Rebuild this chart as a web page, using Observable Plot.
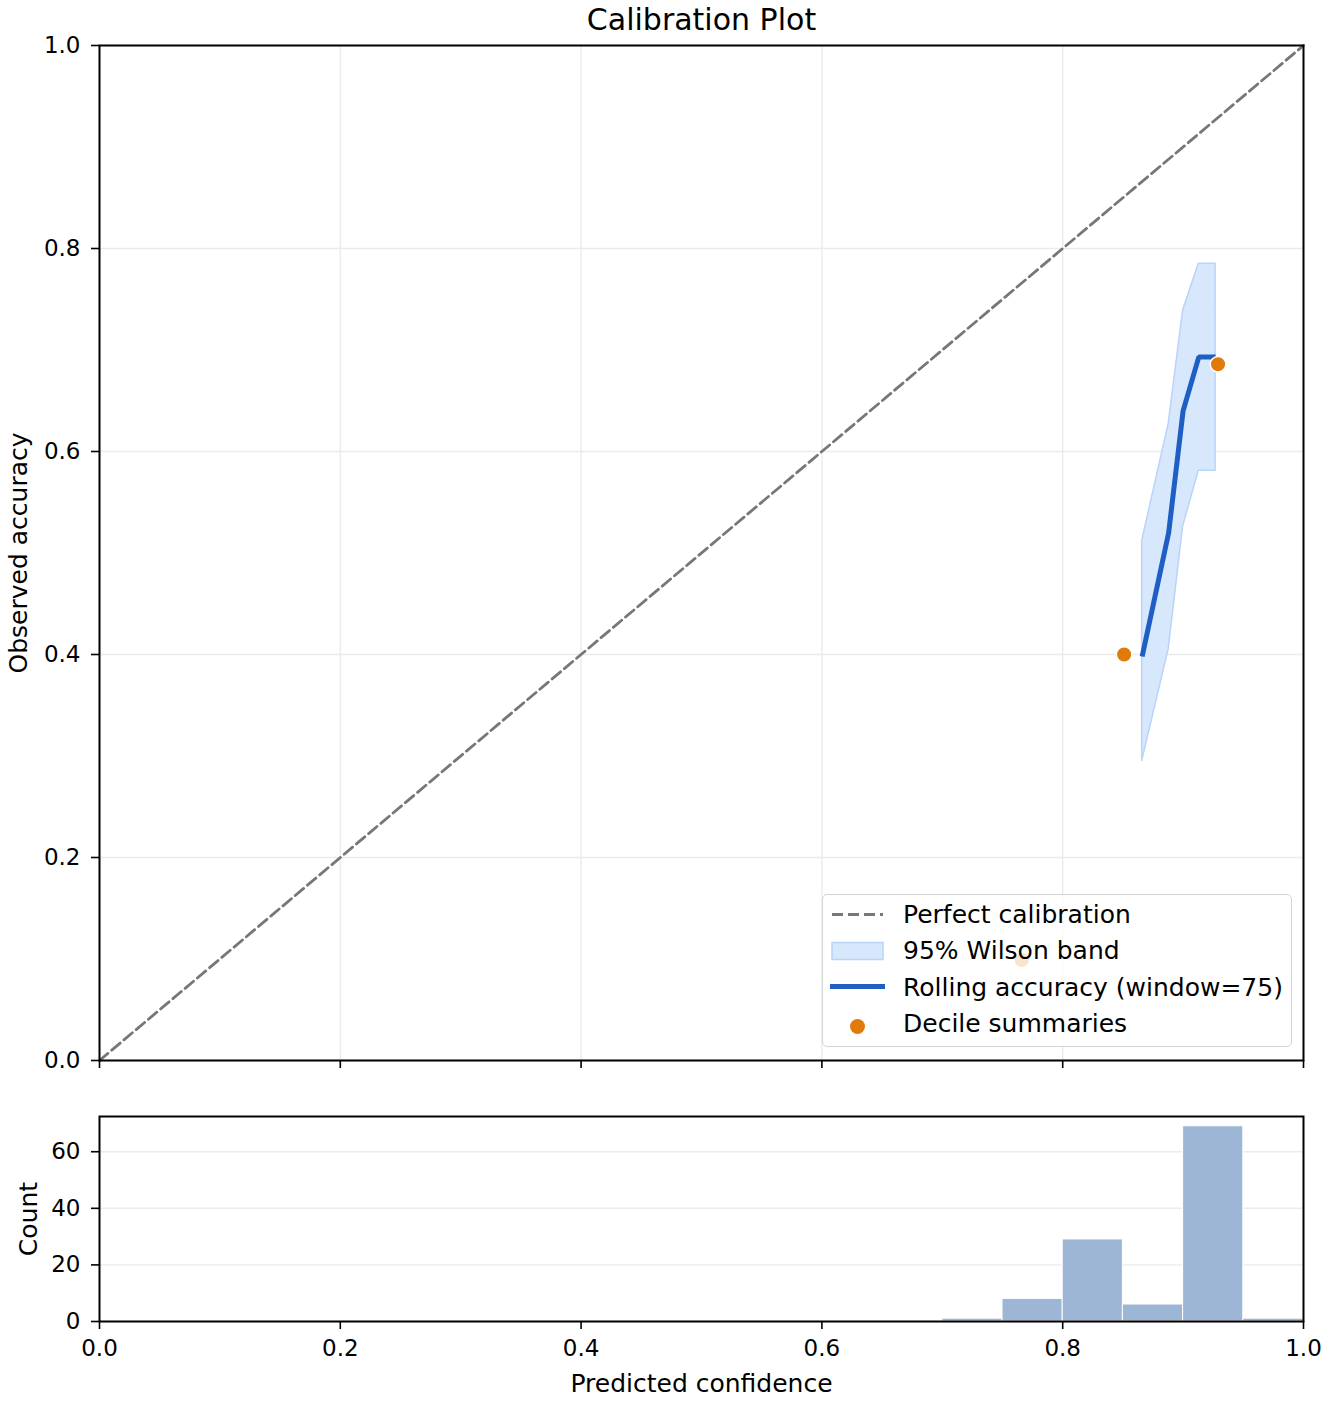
<!DOCTYPE html>
<html>
<head>
<meta charset="utf-8">
<script src="https://cdn.jsdelivr.net/npm/d3@7"></script>
<script src="https://cdn.jsdelivr.net/npm/@observablehq/plot@0.6"></script>
<style>
  html, body { margin: 0; padding: 0; background: #fff; }
  #wrap { position: relative; width: 1332px; height: 1404px; font-family: "DejaVu Sans", sans-serif; }
  #wrap svg { display: block; }
  #legend { position: absolute; left: 822px; top: 894px; width: 468px; height: 151px;
            background: rgba(255,255,255,0.8); border: 1.5px solid #d4d4d4; border-radius: 5px; }
  #legend svg { position: absolute; left: 0; top: 0; }
</style>
</head>
<body>
<div id="wrap"><div id="main"></div><div id="hist"></div><div id="legend"></div></div>
<script>
// ---- data ----
const title = "Calibration Plot";
const xLabel = "Predicted confidence";
const yLabel = "Observed accuracy";
const histLabel = "Count";

const xTicks = [0, 0.2, 0.4, 0.6, 0.8, 1.0];
const yTicks = [0, 0.2, 0.4, 0.6, 0.8, 1.0];
const countTicks = [0, 20, 40, 60];

const diagX = [0, 1];
const diagY = [0, 1];

// rolling accuracy (window=75) and Wilson band
const rollX     = [0.866, 0.888, 0.900, 0.913, 0.927];
const rollAcc   = [0.398, 0.520, 0.640, 0.693, 0.693];
const bandLower = [0.295, 0.405, 0.526, 0.581, 0.581];
const bandUpper = [0.512, 0.627, 0.739, 0.785, 0.785];

// decile summaries
const decileX = [0.766, 0.851, 0.929];
const decileY = [0.099, 0.400, 0.686];

// histogram
const binStart = [0.70, 0.75, 0.80, 0.85, 0.90, 0.95];
const binEnd   = [0.75, 0.80, 0.85, 0.90, 0.95, 1.00];
const binCount = [1, 8, 29, 6, 69, 1];

const legendLabels = ["Perfect calibration", "95% Wilson band", "Rolling accuracy (window=75)", "Decile summaries"];

// ---- styles ----
const FONT = "DejaVu Sans";
const FS = 25;   // labels, legend
const TS = 23;   // tick labels
const lineColor = "#1f5fc4";
const bandFill = "#d7e7fc";
const bandStroke = "#b9d4f8";
const dotColor = "#e07b0b";
const diagColor = "#777777";
const barColor = "#9eb6d6";
const gridColor = "#ebebeb";

const roll = rollX.map((x, i) => ({x, y: rollAcc[i], lo: bandLower[i], hi: bandUpper[i]}));
const diag = diagX.map((x, i) => ({x, y: diagY[i]}));
const dec = decileX.map((x, i) => ({x, y: decileY[i]}));
const bins = binStart.map((x1, i) => ({x1, x2: binEnd[i], y: binCount[i]}));

const main = Plot.plot({
  width: 1332, height: 1090,
  marginLeft: 99, marginRight: 29, marginTop: 45, marginBottom: 30,
  style: {fontFamily: FONT, fontSize: TS + "px", color: "black", background: "white"},
  x: {domain: [0, 1]},
  y: {domain: [0, 1]},
  marks: [
    Plot.gridX(xTicks, {stroke: gridColor, strokeOpacity: 1, strokeWidth: 1.4}),
    Plot.gridY(yTicks, {stroke: gridColor, strokeOpacity: 1, strokeWidth: 1.4}),
    Plot.areaY(roll, {x: "x", y1: "lo", y2: "hi", fill: bandFill, stroke: bandStroke, strokeWidth: 1.5, curve: "linear"}),
    Plot.line(diag, {x: "x", y: "y", stroke: diagColor, strokeWidth: 2.8, strokeDasharray: "11,5"}),
    Plot.line(roll, {x: "x", y: "y", stroke: lineColor, strokeWidth: 5, strokeLinejoin: "miter", strokeLinecap: "butt"}),
    Plot.dot(dec, {x: "x", y: "y", r: 7.8, fill: dotColor, stroke: "white", strokeWidth: 1.5}),
    Plot.frame({stroke: "black", strokeWidth: 2}),
    Plot.axisX(xTicks, {tickSize: 8, strokeWidth: 1.6, tickFormat: () => "", label: null}),
    Plot.axisY(yTicks, {tickSize: 8, strokeWidth: 1.6, tickPadding: 11, tickFormat: d3.format(".1f"), label: null, fontSize: TS}),
    Plot.text([title], {frameAnchor: "top", lineAnchor: "middle", dy: -25, fontSize: 30, fill: "black"}),
    Plot.text([yLabel], {frameAnchor: "left", textAnchor: "middle", lineAnchor: "middle", dx: -81, rotate: -90, fontSize: FS, fill: "black"})
  ]
});
document.getElementById("main").appendChild(main);

const hist = Plot.plot({
  width: 1332, height: 314,
  marginLeft: 99, marginRight: 29, marginTop: 26, marginBottom: 83,
  style: {fontFamily: FONT, fontSize: TS + "px", color: "black", background: "white"},
  x: {domain: [0, 1]},
  y: {domain: [0, 72.45]},
  marks: [
    Plot.gridY(countTicks, {stroke: gridColor, strokeOpacity: 1, strokeWidth: 1.4}),
    Plot.rectY(bins, {x1: "x1", x2: "x2", y: "y", fill: barColor, stroke: "white", strokeWidth: 1}),
    Plot.frame({stroke: "black", strokeWidth: 2}),
    Plot.axisX(xTicks, {tickSize: 8, strokeWidth: 1.6, tickPadding: 10, tickFormat: d3.format(".1f"), label: null, fontSize: TS}),
    Plot.axisY(countTicks, {tickSize: 8, strokeWidth: 1.6, tickPadding: 11, label: null, fontSize: TS}),
    Plot.text([xLabel], {frameAnchor: "bottom", lineAnchor: "middle", dy: 62, fontSize: FS, fill: "black"}),
    Plot.text([histLabel], {frameAnchor: "left", textAnchor: "middle", lineAnchor: "middle", dx: -71, rotate: -90, fontSize: FS, fill: "black"})
  ]
});
document.getElementById("hist").appendChild(hist);

// ---- legend ----
const ns = "http://www.w3.org/2000/svg";
const lg = document.createElementNS(ns, "svg");
lg.setAttribute("width", 468); lg.setAttribute("height", 151);
const baselines = [28, 64, 101, 137];
let html = "";
html += `<line x1="9" x2="60" y1="19.5" y2="19.5" stroke="${diagColor}" stroke-width="2.8" stroke-dasharray="11,5"/>`;
html += `<rect x="9" y="47.5" width="51" height="17" fill="${bandFill}" stroke="${bandStroke}" stroke-width="1.5"/>`;
html += `<line x1="7" x2="62" y1="91.5" y2="91.5" stroke="${lineColor}" stroke-width="5"/>`;
html += `<circle cx="34.5" cy="131.5" r="7.5" fill="${dotColor}"/>`;
legendLabels.forEach((t, i) => {
  html += `<text x="80" y="${baselines[i]}" font-family="${FONT}" font-size="${FS}" fill="black">${t}</text>`;
});
lg.innerHTML = html;
document.getElementById("legend").appendChild(lg);
</script>
</body>
</html>
